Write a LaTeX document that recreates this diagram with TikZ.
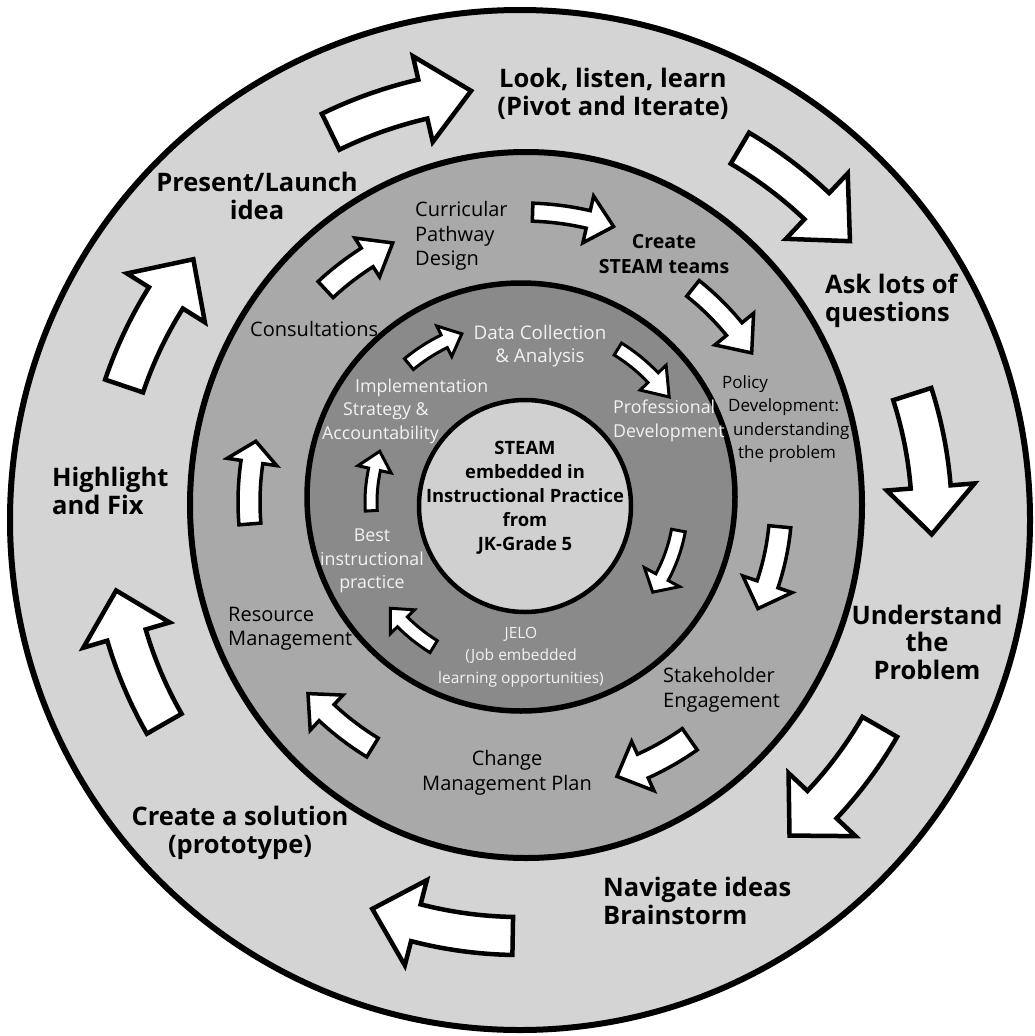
\documentclass[tikz,border=0pt]{standalone}
\usepackage{fontspec}
\setmainfont{Open Sans}
\definecolor{ringA}{HTML}{D4D4D4}
\definecolor{ringB}{HTML}{A9A9A9}
\definecolor{ringC}{HTML}{8A8A8A}
\definecolor{ringD}{HTML}{D0D0D0}
\definecolor{softwhite}{HTML}{F2F2F2}
\newcommand\blockarr[9]{%
  \begin{scope}[shift={(#2,#3)}]
    \draw[blockarrow=#1] (#5:{#4-#8}) arc[start angle=#5,end angle=#6,radius={#4-#8}]
      -- (#6:{#4-#9}) -- (#7:#4) -- (#6:{#4+#9}) -- (#6:{#4+#8})
      arc[start angle=#6,end angle=#5,radius={#4+#8}] -- cycle;
  \end{scope}}
\begin{document}
\begin{tikzpicture}[x=1pt,y=-1pt,
  ring/.style={draw=black,line width=#1},
  blockarrow/.style={draw=black,fill=white,line width=#1,line join=miter,miter limit=10},
  outerlbl/.style={font=\bfseries\fontsize{25.5}{27.5}\selectfont,text=black,inner sep=0pt},
  midlbl/.style={font=\fontsize{20}{24.5}\selectfont,text=black,inner sep=0pt},
  midbold/.style={font=\bfseries\fontsize{19.5}{24.5}\selectfont,text=black,inner sep=0pt},
  smalllbl/.style={font=\fontsize{17}{23.5}\selectfont,text=black,inner sep=0pt},
  innerlbl/.style={font=\fontsize{17.8}{23.5}\selectfont,text=softwhite,inner sep=0pt},
  jelolbl/.style={font=\fontsize{15.5}{22.5}\selectfont,text=softwhite,inner sep=0pt},
  corelbl/.style={font=\bfseries\fontsize{18.4}{24}\selectfont,text=black,inner sep=0pt}]
\useasboundingbox (0,0) rectangle (1035,1036);
\fill[white] (0,0) rectangle (1035,1036);
% rings
\path[ring=6pt,fill=ringA] (520,520) circle[radius=510];
\path[ring=6pt,fill=ringB] (526,505) ellipse[x radius=336,y radius=353];
\path[ring=5.5pt,fill=ringC] (521,497) circle[radius=214];
\path[ring=4.5pt,fill=ringD] (525,506) circle[radius=106];
% outer arrows
\blockarr{4.5pt}{520}{520}{432}{244}{257}{263.5}{20}{44}
\blockarr{4.5pt}{520}{520}{432}{300.6}{313.4}{319.8}{18}{45}
\blockarr{4.5pt}{520}{520}{412}{342.2}{355.4}{362}{20}{44}
\blockarr{4.5pt}{520}{520}{415}{29.9}{43.3}{49.5}{20}{46}
\blockarr{4.5pt}{520}{520}{416}{91}{104.5}{110.8}{19}{44}
\blockarr{4.5pt}{520}{520}{410}{150.2}{163.7}{170.1}{20}{45}
\blockarr{4.5pt}{520}{520}{418}{198.7}{212.1}{218.6}{20}{46}
% middle ring arrows
\blockarr{3.5pt}{523}{502}{290}{227.1}{237.5}{243.3}{11}{23}
\blockarr{3.5pt}{523}{502}{290}{271.9}{283}{288.2}{9}{24}
\blockarr{3.5pt}{523}{502}{273}{308.5}{320.7}{326.9}{10}{25}
\blockarr{3.5pt}{523}{502}{258}{5.5}{18.6}{24.4}{11}{26}
\blockarr{3.5pt}{523}{502}{290}{54.9}{65.6}{71.1}{13}{27}
\blockarr{3.5pt}{523}{502}{288}{121.5}{133}{138.3}{11}{24}
\blockarr{3.5pt}{523}{502}{274}{175.4}{188.4}{192.8}{11}{25}
% inner ring arrows
\blockarr{3pt}{523}{502}{179}{230.4}{243.9}{250}{7}{17}
\blockarr{3pt}{523}{502}{180}{301.8}{316.3}{324.3}{7}{18}
\blockarr{3pt}{523}{502}{158}{10.4}{28.4}{34.8}{7}{20}
\blockarr{3pt}{523}{502}{170}{121.7}{135.2}{141.3}{7}{17}
\blockarr{3pt}{523}{502}{152}{176.7}{192.4}{199.5}{6}{17}
% outer labels
\node[outerlbl,align=center] (look) at (613,94) {Look, listen, learn\\(Pivot and Iterate)};
\node[outerlbl,align=left,anchor=west] (ask) at (825,301) {Ask lots of\\questions};
\node[outerlbl,align=center] (understand) at (927,642) {Understand\\the\\Problem};
\node[outerlbl,align=left,anchor=west] (navigate) at (603,901) {Navigate ideas\\Brainstorm};
\node[outerlbl,align=center] (solution) at (240,833) {Create a solution\\(prototype)};
\node[outerlbl,align=left,anchor=west] (highlight) at (52,491) {Highlight\\and Fix};
\node[outerlbl,align=center] (present) at (257,196) {Present/Launch\\idea};
% middle labels
\node[midlbl,align=left,anchor=west] (curricular) at (415,236) {Curricular\\Pathway\\Design};
\node[midbold,align=center] (teams) at (664,254) {Create\\STEAM teams};
\node[midlbl,anchor=west] (consult) at (250,329) {Consultations};
\node[smalllbl,align=left,anchor=west] (policy) at (722,419) {Policy\\\hspace*{6pt}Development:\\\hspace*{11pt}understanding\\\hspace*{16pt}the problem};
\node[midlbl,align=left,anchor=west] (stake) at (663,690) {Stakeholder\\Engagement};
\node[midlbl,align=center] (change) at (507,773) {Change\\Management Plan};
\node[midlbl,align=left,anchor=west] (resource) at (228,629) {Resource\\Management};
% inner ring labels
\node[innerlbl,font=\fontsize{18.8}{23.5}\selectfont,align=center] (data) at (540,346) {Data Collection\\\& Analysis};
\node[innerlbl,align=left,anchor=west] (prof) at (613,421) {Professional\\Development};
\node[innerlbl,align=left,anchor=west] (impl) at (322,411) {\hspace*{33pt}Implementation\\\hspace*{21pt}Strategy \&\\Accountability};
\node[innerlbl,align=center] (best) at (372,561) {Best\\instructional\\practice};
\node[jelolbl,align=center] (jelo) at (521,657) {JELO\\(Job embedded\\learning opportunities)};
% core
\node[corelbl,align=center] (core) at (525,498) {STEAM\\embedded in\\Instructional Practice\\from\\JK-Grade 5};
\end{tikzpicture}
\end{document}
